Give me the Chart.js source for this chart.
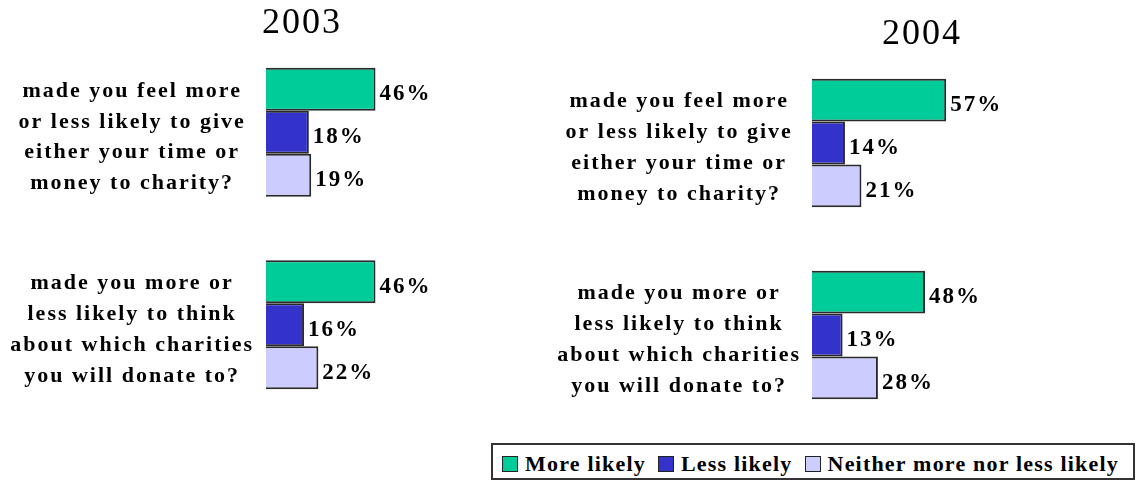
<!DOCTYPE html>
<html>
<head>
<meta charset="utf-8">
<script src="https://cdn.jsdelivr.net/npm/chart.js@4"></script>
<style>
  body { margin:0; background:#fff; overflow:hidden; width:1139px; height:483px; position:relative; }
  canvas { position:absolute; }
  #legenda { position:absolute; left:491px; top:443px; width:644px; height:37px; border:2px solid #333;
    display:flex; align-items:center; gap:12px; padding:4px 0 0 9px; box-sizing:border-box;
    font-family:'Liberation Serif','Times New Roman',serif; font-weight:bold; font-size:22px; letter-spacing:1.2px; color:#000; }
  #legenda span.item { display:flex; align-items:center; white-space:nowrap; }
  #legenda i { display:inline-block; width:14px; height:14px; border:1.5px solid #222; margin-right:7px; }
</style>
</head>
<body>
<canvas id="c2003" width="604" height="421" style="left:0px; top:0px"></canvas>
<canvas id="c2004" width="764" height="420" style="left:540px; top:11px"></canvas>
<div id="legenda"></div>
<script>
const questions = [
  ["made you feel more", "or less likely to give", "either your time or", "money to charity?"],
  ["made you more or", "less likely to think", "about which charities", "you will donate to?"]
]
const seriesNames = ["More likely", "Less likely", "Neither more nor less likely"]
const years = ["2003", "2004"]
const more2003 = [46, 46]
const less2003 = [18, 16]
const neither2003 = [19, 22]
const more2004 = [57, 48]
const less2004 = [14, 13]
const neither2004 = [21, 28]

const cores = ["#00CC99", "#3333CC", "#CCCCFF"]

Chart.defaults.font.family = "'Liberation Serif', 'Times New Roman', serif"
Chart.defaults.color = "#000"

// the original text is spread out a bit
const espacamento = {
  id: "espacamento",
  beforeLayout(chart){ chart.ctx.letterSpacing = "2px" },
  beforeDraw(chart){ chart.ctx.letterSpacing = "2px" },
}

const rotulos = {
  id: "rotulos",
  afterDatasetsDraw(chart){
    const ctx = chart.ctx
    ctx.save()
    ctx.font = "bold 23px 'Liberation Serif', 'Times New Roman', serif"
    ctx.fillStyle = "#000"
    ctx.textAlign = "left"
    ctx.textBaseline = "middle"
    chart.data.datasets.forEach((ds, i) => {
      chart.getDatasetMeta(i).data.forEach((bar, j) => {
        ctx.fillText(ds.data[j] + "%", bar.x + 4, bar.y + 5)
      })
    })
    ctx.restore()
  }
}

function criarGrafico(id, ano, valores, larguraEixo, maxX, padTicks){
  const ctx = document.getElementById(id).getContext("2d")
  return new Chart(ctx, {
    type: "bar",
    data: {
      labels: questions,
      datasets: valores.map((v, i) => ({
        label: seriesNames[i],
        data: v,
        backgroundColor: cores[i],
        borderColor: "#2a2a2a",
        borderWidth: 2,
        barPercentage: 1,
        categoryPercentage: 0.67,
      })),
    },
    options: {
      indexAxis: "y",
      responsive: false,
      animation: false,
      events: [],
      layout: { padding: 0 },
      plugins: {
        legend: { display: false },
        tooltip: { enabled: false },
        title: {
          display: true,
          text: ano,
          color: "#000",
          font: { size: 36, weight: "normal", lineHeight: 1 },
          padding: { top: 6, bottom: -6 },
        },
      },
      scales: {
        x: { display: false, min: 0, max: maxX },
        y: {
          grid: { display: false },
          border: { display: false },
          ticks: {
            crossAlign: "center",
            padding: padTicks,
            labelOffset: 5,
            color: "#000",
            font: { size: 22, weight: "bold", lineHeight: 1.4 },
            autoSkip: false,
          },
          afterFit(scale){
            scale.width = larguraEixo
            scale.paddingTop = 0
            scale.paddingBottom = 0
          },
        },
      },
    },
    plugins: [espacamento, rotulos],
  })
}

criarGrafico("c2003", years[0], [more2003, less2003, neither2003], 266, 142, 4)
criarGrafico("c2004", years[1], [more2004, less2004, neither2004], 272, 209, 3)

const legenda = document.getElementById("legenda")
seriesNames.forEach((nome, i) => {
  const item = document.createElement("span")
  item.className = "item"
  const q = document.createElement("i")
  q.style.background = cores[i]
  item.appendChild(q)
  item.appendChild(document.createTextNode(nome))
  legenda.appendChild(item)
})
</script>
</body>
</html>
